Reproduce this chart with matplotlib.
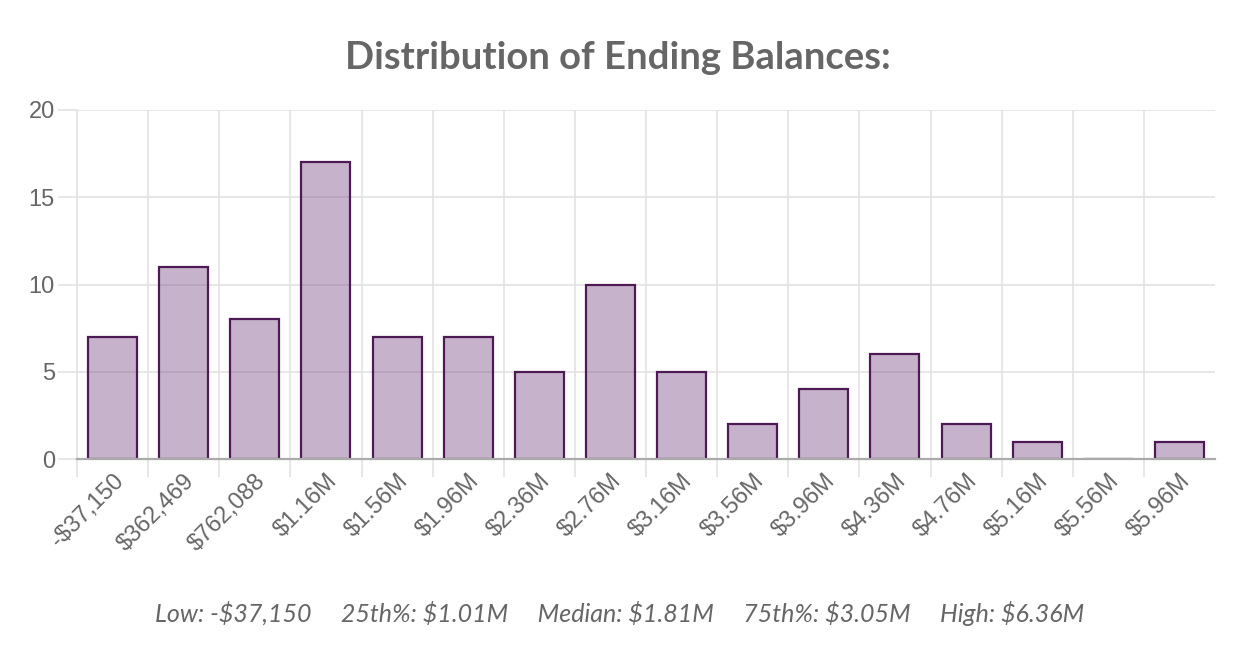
import matplotlib.pyplot as plt
import numpy as np

# --- DATA ---
bin_labels = ['-$37,150', '$362,469', '$762,088', '$1.16M', '$1.56M', '$1.96M',
              '$2.36M', '$2.76M', '$3.16M', '$3.56M', '$3.96M', '$4.36M',
              '$4.76M', '$5.16M', '$5.56M', '$5.96M']
counts = [7, 11, 8, 17, 7, 7, 5, 10, 5, 2, 4, 6, 2, 1, 0, 1]
y_ticks = [0, 5, 10, 15, 20]
summary = ['Low: -$37,150', '25th%: $1.01M', 'Median: $1.81M',
           '75th%: $3.05M', 'High: $6.36M']

TEXT = '#666666'
GRID = '#e3e3e3'
TICKFONT = ['Liberation Sans', 'DejaVu Sans']
HEADFONT = ['Lato', 'DejaVu Sans']

# --- PLOT ---
fig = plt.figure(figsize=(12.6, 6.7), dpi=100)
ax = fig.add_axes([77 / 1260, 211 / 670, 1138 / 1260, 349 / 670])

x = np.arange(len(counts))
ax.bar(x, counts, width=0.69, color=(0.45, 0.25, 0.50, 0.40),
       edgecolor='#4e1a55', linewidth=1.6, zorder=2)

ax.set_xlim(-0.5, len(counts) - 0.5)
ax.set_ylim(0, 20)

# labels at bin centres, grid at bin edges
ax.set_xticks(x)
ax.set_xticklabels(bin_labels, rotation=45, ha='right', va='top',
                   rotation_mode='anchor', fontsize=17, color=TEXT,
                   family=TICKFONT)
ax.tick_params(axis='x', which='major', length=0, pad=8)
ax.set_xticks(np.arange(-0.5, len(counts) - 1, 1), minor=True)
ax.tick_params(axis='x', which='minor', length=13, color=GRID, width=1.2)
ax.grid(True, axis='x', which='minor', color=GRID, linewidth=1.2, zorder=0)

ax.set_yticks(y_ticks)
ax.set_yticklabels([str(v) for v in y_ticks], fontsize=17, color=TEXT,
                   family=TICKFONT)
ax.tick_params(axis='y', length=14, color=GRID, width=1.2, pad=2)
ax.grid(True, axis='y', color=GRID, linewidth=1.2, zorder=0)

for side in ['top', 'right']:
    ax.spines[side].set_visible(False)
ax.spines['left'].set_color(GRID)
ax.spines['left'].set_linewidth(1.2)
ax.spines['bottom'].set_color('#aaaaaa')
ax.spines['bottom'].set_linewidth(1.6)
ax.spines['bottom'].set_zorder(3)

fig.text(618 / 1260, 1 - 58 / 670, 'Distribution of Ending Balances:',
         ha='center', va='center', fontsize=27.5, fontweight='bold',
         color=TEXT, family=HEADFONT)

fig.text(620 / 1260, 1 - 614 / 670, '     '.join(summary),
         ha='center', va='center', fontsize=18, style='italic',
         color=TEXT, family=HEADFONT)

fig.savefig('out.png', dpi=100, facecolor='white')
